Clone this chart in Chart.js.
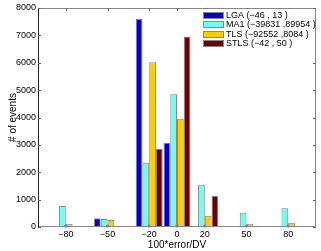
<!DOCTYPE html>
<html>
<head>
<meta charset="utf-8">
<script src="https://cdn.jsdelivr.net/npm/chart.js@4/dist/chart.umd.min.js"></script>
<style>
html,body{margin:0;padding:0;background:#fff;}
#wrap{width:321px;height:251px;}
</style>
</head>
<body>
<div id="wrap"><canvas id="c" width="321" height="251"></canvas></div>
<script>
const categories = [-80, -50, -20, 0, 20, 50, 80];
const seriesLabels = ['LGA (\u221246 , 13 )', 'MA1 (\u221239831 ,89954 )', 'TLS (\u221292552 ,8084 )', 'STLS (\u221242 , 50 )'];
const lga  = [0, 316, 7600, 3077, 0, 0, 0];
const ma1  = [766, 292, 2347, 4852, 1544, 523, 681];
const tls  = [122, 255, 6019, 3952, 413, 122, 158];
const stls = [0, 49, 2858, 6955, 1131, 49, 0];
const yTicks = [0, 1000, 2000, 3000, 4000, 5000, 6000, 7000, 8000];
const colors = ['#0000cc', '#6ffff0', '#ffcc00', '#6e0000'];

const FONT = 'Liberation Sans, Arial, Helvetica, sans-serif';
const series = [lga, ma1, tls, stls];

const fmt = v => (v < 0 ? '\u2212' + Math.abs(v) : String(v));

const axesPlugin = {
  id: 'axesBox',
  afterDraw(chart) {
    const ctx = chart.ctx;
    const a = chart.chartArea;
    const xs = chart.scales.x, ys = chart.scales.y;
    ctx.save();
    ctx.lineWidth = 1;
    ctx.strokeStyle = '#888';
    ctx.beginPath();
    ctx.moveTo(a.left, a.top + 0.5); ctx.lineTo(a.right, a.top + 0.5);
    ctx.moveTo(a.right - 0.5, a.top); ctx.lineTo(a.right - 0.5, a.bottom);
    ctx.moveTo(a.left, a.bottom - 0.5); ctx.lineTo(a.right, a.bottom - 0.5);
    ctx.stroke();
    ctx.strokeStyle = '#222';
    ctx.beginPath();
    ctx.moveTo(a.left + 0.5, a.top); ctx.lineTo(a.left + 0.5, a.bottom);
    ctx.stroke();
    ctx.strokeStyle = '#666';
    ctx.beginPath();
    yTicks.forEach(v => {
      const y = Math.round(ys.getPixelForValue(v)) + 0.5;
      ctx.moveTo(a.left, y); ctx.lineTo(a.left + 3, y);
      ctx.moveTo(a.right, y); ctx.lineTo(a.right - 3, y);
    });
    categories.forEach(v => {
      const x = Math.round(xs.getPixelForValue(v)) + 0.5;
      ctx.moveTo(x, a.top); ctx.lineTo(x, a.top + 3);
    });
    ctx.stroke();
    ctx.fillStyle = '#5a7cff';
    categories.forEach(v => {
      const x = xs.getPixelForValue(v);
      ctx.beginPath();
      ctx.arc(x, a.bottom - 1, 1.6, 0, Math.PI * 2);
      ctx.fill();
    });
    const bx = a.right - 117, by = a.top + 1, bw = 116, bh = 42;
    ctx.fillStyle = '#fff';
    ctx.fillRect(bx, by, bw, bh);
    ctx.font = '9px ' + FONT;
    ctx.textBaseline = 'middle';
    ctx.textAlign = 'left';
    seriesLabels.forEach((lab, i) => {
      const cy = a.top + 7 + i * 9.5;
      ctx.fillStyle = colors[i];
      ctx.fillRect(bx + 4, Math.round(cy - 3.5), 21, 7);
      ctx.strokeStyle = '#888';
      ctx.strokeRect(bx + 4.5, Math.round(cy - 3.5) + 0.5, 20, 6);
      ctx.fillStyle = '#000';
      ctx.fillText(lab, bx + 27, cy + 0.5);
    });
    ctx.restore();
  }
};

new Chart(document.getElementById('c'), {
  type: 'bar',
  data: {
    datasets: series.map((s, i) => ({
      label: seriesLabels[i],
      data: categories.map((c, j) => ({ x: c, y: s[j] })),
      backgroundColor: colors[i],
      borderColor: '#888',
      borderWidth: 1,
      categoryPercentage: 0.97,
      barPercentage: 1.0
    }))
  },
  plugins: [axesPlugin],
  options: {
    responsive: false,
    animation: false,
    layout: { padding: { left: 7, right: 5, top: 8, bottom: 0 } },
    plugins: { legend: { display: false }, tooltip: { enabled: false } },
    scales: {
      x: {
        type: 'linear',
        min: -100, max: 100,
        offset: false,
        grid: { display: false, drawTicks: false },
        border: { display: false },
        afterBuildTicks: s => { s.ticks = categories.map(v => ({ value: v })); },
        afterFit: s => { s.height = 24; },
        ticks: { color: '#000', padding: 2, maxRotation: 0, autoSkip: false,
                 font: { family: FONT, size: 9 }, callback: v => fmt(v) },
        title: { display: true, text: '100*error/DV', color: '#000', padding: 0,
                 font: { family: FONT, size: 10 } }
      },
      y: {
        min: 0, max: 8000,
        grid: { display: false, drawTicks: false },
        border: { display: false },
        afterBuildTicks: s => { s.ticks = yTicks.map(v => ({ value: v })); },
        afterFit: s => { s.width = 31; },
        ticks: { color: '#000', padding: 2, font: { family: FONT, size: 9 }, callback: v => String(v) },
        title: { display: true, text: '# of events', color: '#000', padding: 0,
                 font: { family: FONT, size: 10 } }
      }
    }
  }
});
</script>
</body>
</html>
